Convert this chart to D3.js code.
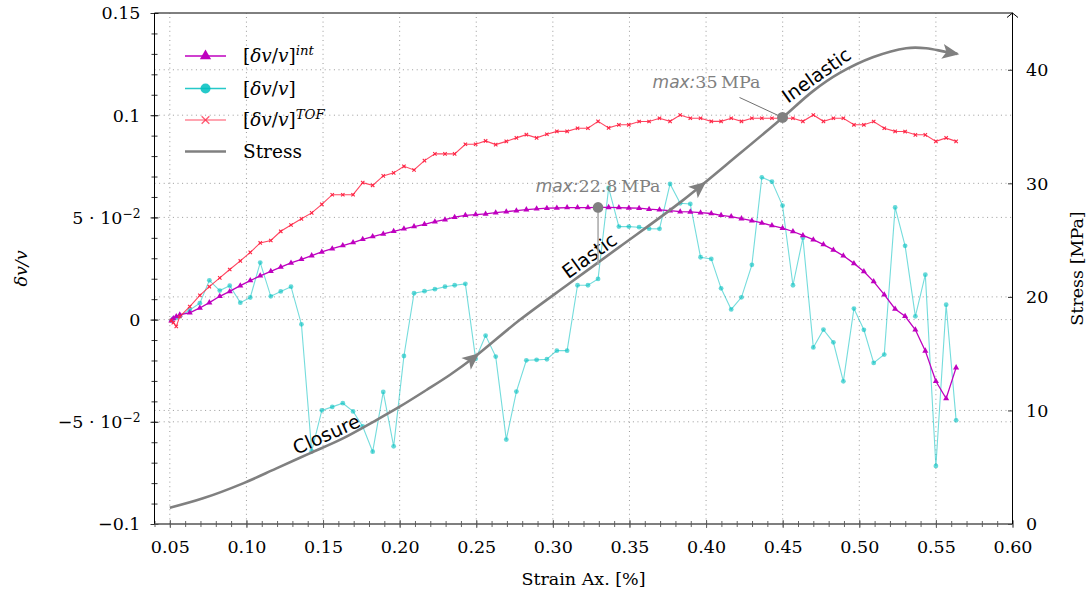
<!DOCTYPE html>
<html>
<head>
<meta charset="utf-8">
<script src="https://cdn.jsdelivr.net/npm/d3@7"></script>
<style>
  body { margin: 0; background: #fff; }
  svg { display: block; }
  svg text { font-family: "DejaVu Serif", serif; }
  .grid line { stroke: #9a9a9a; stroke-width: 1; stroke-dasharray: 1 3.6; }
  svg text.phase { font-family: "DejaVu Sans", sans-serif; font-size: 19px; fill: #000; }
</style>
</head>
<body>
<div id="container"></div>
<script>
/* CONSTANTS AND GLOBALS */
const width = 1092,
  height = 599,
  margin = { top: 13, bottom: 75, left: 154.5, right: 79.5 },
  fontSize = 17.5;

/* DATA */
// strain [%] of every sample (shared by the three dv/v series)
const strain = [
  0.0510, 0.0523, 0.0542, 0.0565, 0.0630, 0.0696, 0.0758, 0.0826, 0.0891, 0.0960,
  0.1025, 0.1090, 0.1159, 0.1224, 0.1291, 0.1359, 0.1426, 0.1492, 0.1560, 0.1629,
  0.1696, 0.1759, 0.1824, 0.1893, 0.1961, 0.2028, 0.2094, 0.2162, 0.2230, 0.2296,
  0.2359, 0.2429, 0.2496, 0.2561, 0.2627, 0.2696, 0.2762, 0.2827, 0.2894, 0.2961,
  0.3026, 0.3093, 0.3161, 0.3229, 0.3295, 0.3364, 0.3431, 0.3496, 0.3563, 0.3628,
  0.3696, 0.3765, 0.3831, 0.3897, 0.3964, 0.4034, 0.4098, 0.4164, 0.4231, 0.4299,
  0.4364, 0.4430, 0.4499, 0.4567, 0.4632, 0.4700, 0.4766, 0.4831, 0.4896, 0.4965,
  0.5030, 0.5094, 0.5163, 0.5234, 0.5299, 0.5366, 0.5431, 0.5500, 0.5567, 0.5632
];
// [dv/v]^int
const dvInt = [
  -0.0005, 0.0005, 0.0015, 0.0024, 0.0033, 0.0057, 0.0083, 0.0114, 0.0138, 0.0166,
  0.0191, 0.0214, 0.0236, 0.0257, 0.0277, 0.0295, 0.0313, 0.0331, 0.0347, 0.0362,
  0.0377, 0.0393, 0.0406, 0.0419, 0.0432, 0.0444, 0.0455, 0.0466, 0.0479, 0.0489,
  0.0501, 0.0510, 0.0514, 0.0517, 0.0523, 0.0528, 0.0533, 0.0538, 0.0542, 0.0545,
  0.0546, 0.0548, 0.0548, 0.0548, 0.0549, 0.0549, 0.0548, 0.0546, 0.0545, 0.0540,
  0.0537, 0.0533, 0.0528, 0.0527, 0.0523, 0.0519, 0.0510, 0.0504, 0.0494, 0.0484,
  0.0473, 0.0460, 0.0447, 0.0431, 0.0412, 0.0391, 0.0367, 0.0341, 0.0312, 0.0275,
  0.0235, 0.0186, 0.0122, 0.0052, 0.0016, -0.0050, -0.0153, -0.0302, -0.0386, -0.0235
];
// [dv/v]
const dvStep = [
  -0.0005, 0.0005, 0.0010, 0.0016, 0.0047, 0.0080, 0.0192, 0.0142, 0.0166, 0.0083,
  0.0108, 0.0279, 0.0114, 0.0138, 0.0161, -0.0023, -0.0644, -0.0444, -0.0427, -0.0409,
  -0.0449, -0.0523, -0.0646, -0.0354, -0.0620, -0.0178, 0.0129, 0.0139, 0.0149, 0.0161,
  0.0168, 0.0175, -0.0192, -0.0078, -0.0181, -0.0587, -0.0352, -0.0199, -0.0197, -0.0194,
  -0.0152, -0.0152, 0.0168, 0.0168, 0.0199, 0.0644, 0.0455, 0.0455, 0.0452, 0.0445,
  0.0444, 0.0664, 0.0569, 0.0566, 0.0305, 0.0297, 0.0153, 0.0050, 0.0109, 0.0268,
  0.0696, 0.0675, 0.0558, 0.0168, 0.0400, -0.0136, -0.0049, -0.0111, -0.0302, 0.0054,
  -0.0050, -0.0212, -0.0171, 0.0549, 0.0361, 0.0016, 0.0220, -0.0716, 0.0073, -0.0493
];
// [dv/v]^TOF
const dvTof = [
  -0.0005, -0.0015, -0.0033, 0.0015, 0.0064, 0.0119, 0.0161, 0.0204, 0.0245, 0.0287,
  0.0329, 0.0375, 0.0387, 0.0432, 0.0463, 0.0493, 0.0522, 0.0564, 0.0611, 0.0611,
  0.0611, 0.0670, 0.0657, 0.0703, 0.0718, 0.0750, 0.0732, 0.0778, 0.0811, 0.0811,
  0.0811, 0.0858, 0.0858, 0.0874, 0.0856, 0.0872, 0.0889, 0.0905, 0.0889, 0.0907,
  0.0921, 0.0921, 0.0936, 0.0936, 0.0970, 0.0938, 0.0953, 0.0953, 0.0969, 0.0969,
  0.0985, 0.0970, 0.1001, 0.0985, 0.0985, 0.0970, 0.0970, 0.0985, 0.0970, 0.0985,
  0.0985, 0.0985, 0.0985, 0.0985, 0.0970, 0.1001, 0.0970, 0.0985, 0.0985, 0.0953,
  0.0953, 0.0969, 0.0936, 0.0921, 0.0920, 0.0904, 0.0904, 0.0872, 0.0889, 0.0872
];
// stress curve (right axis)
const stressStrain = [0.050, 0.0717, 0.0978, 0.1196, 0.1413, 0.1630, 0.1848, 0.2000, 0.2175, 0.2327,
  0.2478, 0.2783, 0.3109, 0.3435, 0.3848, 0.4218, 0.4501, 0.4696, 0.4870, 0.5088, 0.5306, 0.5436, 0.5556, 0.5640];
const stressMPa = [1.43, 2.26, 3.58, 4.90, 6.22, 7.54, 9.15, 10.33, 11.80, 13.12,
  14.59, 17.96, 21.2, 24.4, 28.5, 32.6, 35.8, 38.1, 39.7, 41.1, 41.9, 41.9, 41.6, 41.4];

// ticks
const xTicks = [0.05, 0.10, 0.15, 0.20, 0.25, 0.30, 0.35, 0.40, 0.45, 0.50, 0.55, 0.60];
const yLeftTicks = [-0.1, -0.05, 0, 0.05, 0.1, 0.15];
const yLeftLabels = ["−0.1", "−5 · 10^−2", "0", "5 · 10^−2", "0.1", "0.15"];
const yRightTicks = [0, 10, 20, 30, 40];

// phases along the stress curve, arrows on it
const phaseNames = ["Closure", "Elastic", "Inelastic"];
const phaseStrain = [0.155, 0.328, 0.476];
const arrowStrain = [0.251, 0.399];

// annotations
const maxIntStrain = 0.3295, maxIntDv = 0.0549, maxIntStress = 22.8;
const maxStressStrain = 0.4499, maxStressMPa = 35.8;
const annotLabels = ["22.8", "35"];

const legendLabels = ["[δv/v]^int", "[δv/v]", "[δv/v]^TOF", "Stress"];

const cPurple = "#bf00bf", cCyan = "#00bfbf", cRed = "#ff2444", cGray = "#808080";

/* SCALES */
const x0 = margin.left, x1 = width - margin.right,
  y0 = height - margin.bottom, y1 = margin.top;

const xScale = d3.scaleLinear().domain([0.04, 0.60]).range([x0, x1]);
const yScale = d3.scaleLinear().domain([-0.1, 0.15]).range([y0, y1]);
const yStress = d3.scaleLinear().domain([0, 45]).range([y0, y1]);

const svg = d3.select("#container")
  .append("svg")
  .attr("width", width)
  .attr("height", height)
  .attr("font-size", fontSize);

/* GRID */
const grid = svg.append("g").attr("class", "grid");
grid.selectAll(".gx")
  .data(xTicks.filter(d => d < 0.6))
  .join("line")
  .attr("x1", d => xScale(d)).attr("x2", d => xScale(d))
  .attr("y1", y0).attr("y2", y1);
grid.selectAll(".gy")
  .data(yLeftTicks.filter(d => d > -0.1 && d < 0.15))
  .join("line").attr("class", "gy")
  .attr("x1", x0).attr("x2", x1)
  .attr("y1", d => yScale(d)).attr("y2", d => yScale(d));
grid.selectAll(".gr")
  .data(yRightTicks.filter(d => d > 0))
  .join("line").attr("class", "gr")
  .attr("x1", x0).attr("x2", x1)
  .attr("y1", d => yStress(d)).attr("y2", d => yStress(d));

/* AXES */
// bottom
const xAxisG = svg.append("g")
  .attr("class", "axis axis--x")
  .attr("transform", `translate(0,${y0})`)
  .call(d3.axisBottom(xScale).tickValues(xTicks).tickSize(0).tickFormat(d3.format(".2f")));
xAxisG.attr("font-family", null).attr("font-size", fontSize);
xAxisG.selectAll("text").attr("y", 29).attr("dy", 0).attr("fill", "#000");
xAxisG.selectAll(".tick line").attr("y1", -4).attr("y2", 4).attr("stroke", "#666");

const xMinor = svg.append("g")
  .attr("transform", `translate(0,${y0})`)
  .call(d3.axisBottom(xScale).tickValues(d3.range(4, 61).map(d => d / 100)).tickSize(0).tickFormat(""));
xMinor.selectAll(".tick line").attr("y1", -3).attr("y2", 3).attr("stroke", "#666");

// left
const yAxisG = svg.append("g")
  .attr("class", "axis axis--y")
  .attr("transform", `translate(${x0},0)`)
  .call(d3.axisLeft(yScale).tickValues(yLeftTicks).tickSize(0).tickPadding(14));
yAxisG.attr("font-family", null).attr("font-size", fontSize);
yAxisG.selectAll(".tick line").attr("x1", -4).attr("x2", 4).attr("stroke", "#333");
yAxisG.selectAll("text")
  .attr("fill", "#000")
  .attr("dy", "0.34em")
  .text(null)
  .each(function(d, i) {
    const parts = yLeftLabels[i].split("^");
    const t = d3.select(this);
    t.append("tspan").text(parts[0]);
    if (parts[1]) t.append("tspan").attr("font-size", "0.7em").attr("dy", "-0.5em").text(parts[1]);
  });

const yMinor = svg.append("g")
  .attr("transform", `translate(${x0},0)`)
  .call(d3.axisLeft(yScale).tickValues(d3.range(-10, 16).map(d => d / 100)).tickSize(0).tickFormat(""));
yMinor.selectAll(".tick line").attr("x1", -3).attr("x2", 3).attr("stroke", "#333");

// right
const yAxisR = svg.append("g")
  .attr("class", "axis axis--r")
  .attr("transform", `translate(${x1},0)`)
  .call(d3.axisRight(yStress).tickValues(yRightTicks).tickSize(0).tickPadding(13.5));
yAxisR.attr("font-family", null).attr("font-size", fontSize);
yAxisR.selectAll(".tick line").attr("x1", -4.5).attr("x2", 0).attr("stroke", "#333");
yAxisR.selectAll("text").attr("fill", "#000").attr("dy", "0.34em");

svg.selectAll(".domain").remove();

// frame
svg.append("line").attr("x1", x0).attr("x2", x0).attr("y1", y0).attr("y2", y1).attr("stroke", "#000");
svg.append("line").attr("x1", x0).attr("x2", x1).attr("y1", y1).attr("y2", y1).attr("stroke", "#000");
svg.append("line").attr("x1", x0).attr("x2", x1).attr("y1", y0).attr("y2", y0).attr("stroke", "#555").attr("stroke-width", 1.4);
svg.append("line").attr("x1", x1).attr("x2", x1).attr("y1", y0).attr("y2", y1).attr("stroke", "#000");
svg.append("path")
  .attr("d", `M${x1 - 5.5},${y1 + 4.5}L${x1},${y1}L${x1 + 5.5},${y1 + 4.5}`)
  .attr("fill", "none").attr("stroke", "#000");

// axis titles
svg.append("text")
  .attr("x", (x0 + x1) / 2).attr("y", 585)
  .attr("text-anchor", "middle")
  .text("Strain Ax. [%]");
svg.append("text")
  .attr("transform", `translate(27,${(y0 + y1) / 2}) rotate(-90)`)
  .attr("text-anchor", "middle")
  .attr("font-style", "italic")
  .text("δv/v");
svg.append("text")
  .attr("transform", `translate(1083,${(y0 + y1) / 2}) rotate(-90)`)
  .attr("text-anchor", "middle")
  .text("Stress [MPa]");

/* SERIES */
const rows = strain.map((s, i) => ({ s, int: dvInt[i], step: dvStep[i], tof: dvTof[i] }));

// [dv/v]
svg.append("path")
  .datum(rows)
  .attr("fill", "none").attr("stroke", cCyan).attr("stroke-opacity", 0.55).attr("stroke-width", 1.1)
  .attr("d", d3.line().x(d => xScale(d.s)).y(d => yScale(d.step)));
svg.append("g").selectAll("circle")
  .data(rows)
  .join("circle")
  .attr("cx", d => xScale(d.s)).attr("cy", d => yScale(d.step))
  .attr("r", 2.4).attr("fill", cCyan).attr("fill-opacity", 0.6);

// [dv/v]^int
svg.append("path")
  .datum(rows)
  .attr("fill", "none").attr("stroke", cPurple).attr("stroke-width", 1.3)
  .attr("d", d3.line().x(d => xScale(d.s)).y(d => yScale(d.int)));
svg.append("g").selectAll("path")
  .data(rows)
  .join("path")
  .attr("transform", d => `translate(${xScale(d.s)},${yScale(d.int)})`)
  .attr("d", d3.symbol(d3.symbolTriangle).size(16))
  .attr("fill", cPurple);

// [dv/v]^TOF
svg.append("path")
  .datum(rows)
  .attr("fill", "none").attr("stroke", cRed).attr("stroke-opacity", 0.85).attr("stroke-width", 1.1)
  .attr("d", d3.line().x(d => xScale(d.s)).y(d => yScale(d.tof)));
svg.append("g").selectAll("path")
  .data(rows)
  .join("path")
  .attr("transform", d => `translate(${xScale(d.s)},${yScale(d.tof)})`)
  .attr("d", d3.symbol(d3.symbolTimes || d3.symbolX).size(9))
  .attr("fill", "none").attr("stroke", cRed).attr("stroke-width", 1.1);

// stress
const stressRows = stressStrain.map((s, i) => ({ s, p: stressMPa[i] }));
const stressPath = svg.append("path")
  .datum(stressRows)
  .attr("fill", "none").attr("stroke", cGray).attr("stroke-width", 2.6)
  .attr("d", d3.line().curve(d3.curveCatmullRom).x(d => xScale(d.s)).y(d => yStress(d.p)));

// point on the stress path for a given strain, with tangent angle
function atStrain(s) {
  const node = stressPath.node(), total = node.getTotalLength(), tx = xScale(s);
  let lo = 0, hi = total;
  for (let i = 0; i < 30; i++) {
    const mid = (lo + hi) / 2;
    if (node.getPointAtLength(mid).x < tx) lo = mid; else hi = mid;
  }
  return pointAt(lo);
}
function pointAt(l) {
  const node = stressPath.node(), total = node.getTotalLength();
  const p = node.getPointAtLength(l),
    a = node.getPointAtLength(Math.max(0, l - 3)),
    b = node.getPointAtLength(Math.min(total, l + 3));
  return { x: p.x, y: p.y, angle: Math.atan2(b.y - a.y, b.x - a.x) * 180 / Math.PI };
}

const arrowHead = "M2,0L-15,-7.5L-11,0L-15,7.5Z";
const arrowPts = arrowStrain.map(atStrain).concat([pointAt(stressPath.node().getTotalLength())]);
svg.append("g").selectAll("path")
  .data(arrowPts)
  .join("path")
  .attr("transform", d => `translate(${d.x},${d.y}) rotate(${d.angle})`)
  .attr("d", arrowHead)
  .attr("fill", cGray);

svg.append("g").selectAll("text")
  .data(phaseNames)
  .join("text")
  .attr("class", "phase")
  .attr("transform", (d, i) => {
    const p = atStrain(phaseStrain[i]);
    return `translate(${p.x},${p.y}) rotate(${p.angle})`;
  })
  .attr("text-anchor", "middle")
  .attr("dy", -4)
  .text(d => d);

/* ANNOTATIONS */
function maxLabel(g, value) {
  g.append("tspan").style("font-family", "DejaVu Sans").attr("font-style", "italic")
    .attr("font-size", 17).text("max:");
  g.append("tspan").text(value + "\u2009MPa");
}

// max of [dv/v]^int, pinned to the stress curve
const pinTop = { x: xScale(maxIntStrain), y: yScale(maxIntDv) };
svg.append("line")
  .attr("x1", pinTop.x).attr("x2", pinTop.x)
  .attr("y1", pinTop.y).attr("y2", yStress(maxIntStress))
  .attr("stroke", "#a8a8a8").attr("stroke-width", 1.5);
svg.append("circle").attr("cx", pinTop.x).attr("cy", pinTop.y).attr("r", 5.3).attr("fill", cGray);
maxLabel(svg.append("text")
  .attr("x", pinTop.x).attr("y", pinTop.y - 15)
  .attr("text-anchor", "middle").attr("fill", cGray), annotLabels[0]);

// 35 MPa point on the stress curve
const dot35 = { x: xScale(maxStressStrain), y: yStress(maxStressMPa) };
svg.append("line")
  .attr("x1", dot35.x - 43).attr("y1", dot35.y - 20)
  .attr("x2", dot35.x).attr("y2", dot35.y)
  .attr("stroke", "#707070").attr("stroke-width", 1);
svg.append("circle").attr("cx", dot35.x).attr("cy", dot35.y).attr("r", 5.5).attr("fill", cGray);
maxLabel(svg.append("text")
  .attr("x", dot35.x - 76).attr("y", dot35.y - 29)
  .attr("text-anchor", "middle").attr("fill", cGray), annotLabels[1]);

/* LEGEND */
const legendStyle = [
  { color: cPurple, opacity: 1, width: 1.3, marker: "tri" },
  { color: cCyan, opacity: 0.85, width: 1.3, marker: "dot" },
  { color: cRed, opacity: 0.55, width: 1.6, marker: "x" },
  { color: cGray, opacity: 1, width: 2.6, marker: null }
];
const legendY = [56, 88.5, 120, 151.5];
const legend = svg.append("g").attr("transform", "translate(185,0)");
const item = legend.selectAll("g")
  .data(legendLabels)
  .join("g")
  .attr("transform", (d, i) => `translate(0,${legendY[i]})`);
item.append("line")
  .attr("x1", 0).attr("x2", 41)
  .attr("stroke", (d, i) => legendStyle[i].color)
  .attr("stroke-opacity", (d, i) => legendStyle[i].opacity)
  .attr("stroke-width", (d, i) => legendStyle[i].width);
item.each(function(d, i) {
  const g = d3.select(this), st = legendStyle[i];
  if (st.marker === "tri") {
    g.append("path").attr("transform", "translate(20.5,0)")
      .attr("d", d3.symbol(d3.symbolTriangle).size(55)).attr("fill", st.color);
  } else if (st.marker === "dot") {
    g.append("circle").attr("cx", 20.5).attr("r", 5).attr("fill", st.color).attr("fill-opacity", st.opacity);
  } else if (st.marker === "x") {
    g.append("path").attr("transform", "translate(20.5,0)")
      .attr("d", d3.symbol(d3.symbolTimes || d3.symbolX).size(40))
      .attr("fill", "none").attr("stroke", st.color).attr("stroke-opacity", 0.75).attr("stroke-width", 1.3);
  }
  const t = g.append("text").attr("x", 58).attr("dy", "0.35em").attr("font-size", 18.5);
  if (d.startsWith("[δv/v]")) {
    t.append("tspan").text("[");
    t.append("tspan").attr("font-style", "italic").text("δv");
    t.append("tspan").text("/");
    t.append("tspan").attr("font-style", "italic").text("v");
    t.append("tspan").text("]");
    const sup = d.split("^")[1];
    if (sup) t.append("tspan").attr("font-style", "italic").attr("font-size", "0.72em").attr("dy", "-0.55em").text(sup);
  } else {
    t.text(d);
  }
});
</script>
</body>
</html>
